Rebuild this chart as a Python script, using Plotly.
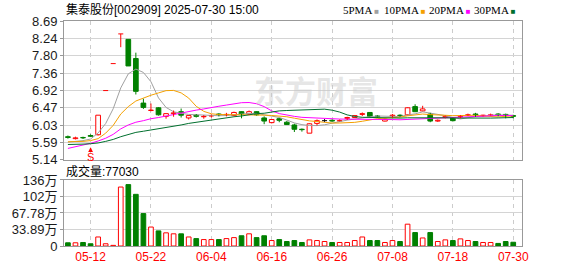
import plotly.graph_objects as go

# ---------------- data ----------------
dates = [
    "2025-05-07", "2025-05-08", "2025-05-09", "2025-05-12", "2025-05-13", "2025-05-14", "2025-05-15", "2025-05-16",
    "2025-05-19", "2025-05-20", "2025-05-21", "2025-05-22", "2025-05-23", "2025-05-26", "2025-05-27", "2025-05-28",
    "2025-05-29", "2025-05-30", "2025-06-03", "2025-06-04", "2025-06-05", "2025-06-06", "2025-06-09", "2025-06-10",
    "2025-06-11", "2025-06-12", "2025-06-13", "2025-06-16", "2025-06-17", "2025-06-18", "2025-06-19", "2025-06-20",
    "2025-06-23", "2025-06-24", "2025-06-25", "2025-06-26", "2025-06-27", "2025-06-30", "2025-07-01", "2025-07-02",
    "2025-07-03", "2025-07-04", "2025-07-07", "2025-07-08", "2025-07-09", "2025-07-10", "2025-07-11", "2025-07-14",
    "2025-07-15", "2025-07-16", "2025-07-17", "2025-07-18", "2025-07-21", "2025-07-22", "2025-07-23", "2025-07-24",
    "2025-07-25", "2025-07-28", "2025-07-29", "2025-07-30",
]
opens = [5.73, 5.68, 5.71, 5.76, 5.78, 6.91, 7.60, 8.36, 8.22, 7.73,
         6.59, 6.40, 6.47, 6.25, 6.32, 6.37, 6.21, 6.28, 6.24, 6.26,
         6.31, 6.29, 6.27, 6.37, 6.31, 6.37, 6.21, 6.09, 6.19, 6.10,
         6.03, 5.92, 5.82, 6.07, 6.14, 6.15, 6.13, 6.20, 6.22, 6.30,
         6.35, 6.26, 6.13, 6.26, 6.28, 6.29, 6.50, 6.39, 6.31, 6.13,
         6.22, 6.22, 6.24, 6.28, 6.31, 6.27, 6.27, 6.31, 6.30, 6.27]
highs = [5.76, 5.73, 5.73, 5.79, 6.28, 6.91, 7.60, 8.36, 8.22, 7.88,
         6.70, 6.58, 6.49, 6.33, 6.40, 6.45, 6.28, 6.31, 6.28, 6.30,
         6.33, 6.34, 6.37, 6.38, 6.40, 6.38, 6.25, 6.18, 6.21, 6.13,
         6.06, 5.94, 6.07, 6.17, 6.18, 6.17, 6.17, 6.24, 6.28, 6.35,
         6.36, 6.28, 6.19, 6.31, 6.30, 6.48, 6.56, 6.52, 6.34, 6.17,
         6.27, 6.23, 6.28, 6.32, 6.34, 6.29, 6.32, 6.33, 6.32, 6.29]
lows = [5.68, 5.66, 5.67, 5.72, 5.76, 6.91, 7.60, 8.02, 7.54, 6.81,
        6.44, 6.38, 6.27, 6.19, 6.24, 6.22, 6.17, 6.22, 6.19, 6.22,
        6.25, 6.25, 6.26, 6.20, 6.29, 6.27, 6.05, 6.07, 6.10, 6.03,
        5.85, 5.86, 5.82, 6.02, 6.11, 6.11, 6.12, 6.16, 6.22, 6.26,
        6.24, 6.21, 6.12, 6.22, 6.24, 6.28, 6.36, 6.38, 6.10, 6.11,
        6.20, 6.12, 6.20, 6.26, 6.24, 6.25, 6.26, 6.25, 6.20, 6.20]
closes = [5.71, 5.70, 5.70, 5.74, 6.28, 6.91, 7.60, 8.36, 7.54, 6.89,
          6.48, 6.41, 6.29, 6.32, 6.34, 6.28, 6.27, 6.25, 6.25, 6.27,
          6.29, 6.30, 6.35, 6.31, 6.37, 6.29, 6.13, 6.17, 6.15, 6.04,
          5.92, 5.91, 6.06, 6.14, 6.14, 6.13, 6.14, 6.22, 6.27, 6.32,
          6.25, 6.24, 6.18, 6.28, 6.27, 6.47, 6.37, 6.44, 6.13, 6.15,
          6.25, 6.14, 6.25, 6.29, 6.29, 6.28, 6.29, 6.29, 6.28, 6.25]
# volume in 万 (10k shares)
volumes = [6.6, 6.6, 7.2, 4.6, 18.5, 4.6, 1.3, 121.0, 126.0, 106.0,
           66.5, 38.9, 31.0, 27.0, 25.0, 25.0, 18.5, 15.2, 13.2, 13.2,
           13.2, 15.2, 17.2, 21.0, 25.0, 17.2, 21.0, 11.2, 13.2, 9.2,
           11.2, 7.2, 12.6, 11.2, 9.2, 7.2, 7.2, 7.2, 11.2, 18.5,
           11.2, 11.2, 7.2, 11.2, 9.2, 44.8, 27.6, 16.5, 27.6, 9.2,
           12.6, 11.2, 14.6, 11.2, 9.2, 7.2, 7.2, 5.3, 9.2, 7.703]
ma5 = [5.59, 5.61, 5.63, 5.67, 5.826, 6.066, 6.446, 6.978, 7.338, 7.46,
       7.374, 7.136, 6.722, 6.478, 6.368, 6.328, 6.30, 6.292, 6.278, 6.264,
       6.266, 6.272, 6.292, 6.304, 6.324, 6.324, 6.29, 6.254, 6.222, 6.156,
       6.082, 6.038, 6.016, 6.014, 6.034, 6.076, 6.122, 6.154, 6.18, 6.216,
       6.24, 6.26, 6.252, 6.254, 6.244, 6.288, 6.314, 6.366, 6.336, 6.312,
       6.268, 6.222, 6.184, 6.216, 6.244, 6.25, 6.28, 6.288, 6.286, 6.278]
ma10 = [5.60, 5.60, 5.61, 5.63, 5.68, 5.82, 6.02, 6.31, 6.50, 6.643,
        6.72, 6.791, 6.85, 6.908, 6.914, 6.851, 6.718, 6.507, 6.378, 6.316,
        6.297, 6.286, 6.292, 6.291, 6.294, 6.295, 6.281, 6.273, 6.263, 6.24,
        6.203, 6.164, 6.135, 6.118, 6.095, 6.079, 6.08, 6.085, 6.097, 6.125,
        6.158, 6.191, 6.203, 6.217, 6.23, 6.264, 6.287, 6.309, 6.295, 6.278,
        6.278, 6.268, 6.275, 6.276, 6.278, 6.259, 6.251, 6.236, 6.251, 6.261]
ma20 = [5.43, 5.47, 5.51, 5.56, 5.62, 5.69, 5.79, 5.93, 6.03, 6.10,
        6.14, 6.19, 6.22, 6.26, 6.30, 6.34, 6.37, 6.41, 6.44, 6.48,
        6.509, 6.539, 6.571, 6.60, 6.604, 6.573, 6.50, 6.39, 6.321, 6.278,
        6.25, 6.225, 6.214, 6.205, 6.195, 6.187, 6.181, 6.179, 6.18, 6.183,
        6.181, 6.178, 6.169, 6.168, 6.163, 6.172, 6.184, 6.197, 6.196, 6.202,
        6.218, 6.23, 6.239, 6.247, 6.254, 6.262, 6.269, 6.273, 6.273, 6.27]
ma30 = [5.53, 5.53, 5.54, 5.55, 5.57, 5.61, 5.66, 5.73, 5.79, 5.84,
        5.87, 5.90, 5.93, 5.96, 5.99, 6.03, 6.07, 6.10, 6.13, 6.16,
        6.18, 6.21, 6.24, 6.26, 6.29, 6.32, 6.33, 6.36, 6.39, 6.40,
        6.407, 6.414, 6.426, 6.439, 6.434, 6.408, 6.36, 6.288, 6.246, 6.227,
        6.219, 6.214, 6.21, 6.209, 6.206, 6.213, 6.216, 6.222, 6.218, 6.214,
        6.213, 6.208, 6.204, 6.204, 6.201, 6.201, 6.206, 6.21, 6.214, 6.221]
ma_names = ["5PMA", "10PMA", "20PMA", "30PMA"]
price_ticks = ["5.14", "5.59", "6.03", "6.47", "6.92", "7.36", "7.80", "8.24", "8.69"]
vol_ticks = ["0", "33.89万", "67.78万", "102万", "136万"]
vol_step = 33.89
date_ticks = ["05-12", "05-22", "06-04", "06-16", "06-26", "07-08", "07-18", "07-30"]
title_text = "集泰股份[002909] 2025-07-30 15:00"
signal_date = "2025-05-12"

# ---------------- styles ----------------
RED = "#ff0000"
GREEN = "#008000"
BLACK = "#000000"
MA_COLORS = ["#a0a0a0", "#f4a000", "#ff00ff", "#006f2e"]
FONT = "Liberation Sans, Noto Sans CJK SC, sans-serif"
GRID = "#d4d4d4"
FRAME = "#999999"

N = len(dates)
idx = list(range(N))


def direction(i):
    if closes[i] > opens[i]:
        return "up"
    if closes[i] < opens[i]:
        return "down"
    if i > 0 and closes[i] > closes[i - 1]:
        return "up"
    if i > 0 and closes[i] < closes[i - 1]:
        return "down"
    return "flat"


dirs = [direction(i) for i in idx]
dcol = {"up": RED, "down": GREEN, "flat": BLACK}

fig = go.Figure()

# moving averages
for vals, c in zip([ma5, ma10, ma20, ma30], MA_COLORS):
    fig.add_trace(go.Scatter(x=idx, y=vals, mode="lines", line=dict(color=c, width=1),
                             xaxis="x", yaxis="y", hoverinfo="skip"))

# candle bodies
body_x = [i for i in idx if opens[i] != closes[i]]
fig.add_trace(go.Bar(
    x=body_x,
    base=[min(opens[i], closes[i]) for i in body_x],
    y=[abs(closes[i] - opens[i]) for i in body_x],
    width=0.62,
    marker=dict(color=["#ffffff" if dirs[i] == "up" else dcol[dirs[i]] for i in body_x],
                line=dict(color=[dcol[dirs[i]] for i in body_x], width=1)),
    xaxis="x", yaxis="y", hoverinfo="skip"))

# wicks + flat bodies
for d in ("up", "down", "flat"):
    xs, ys = [], []
    for i in idx:
        if dirs[i] != d:
            continue
        top = max(opens[i], closes[i])
        bot = min(opens[i], closes[i])
        if highs[i] > top:
            xs += [i, i, None]
            ys += [highs[i], top, None]
        if lows[i] < bot:
            xs += [i, i, None]
            ys += [bot, lows[i], None]
        if opens[i] == closes[i]:
            xs += [i - 0.33, i + 0.33, None]
            ys += [opens[i], opens[i], None]
    if xs:
        fig.add_trace(go.Scatter(x=xs, y=ys, mode="lines", line=dict(color=dcol[d], width=1),
                                 xaxis="x", yaxis="y", hoverinfo="skip"))

# volume
fig.add_trace(go.Bar(
    x=idx, y=volumes, width=0.62,
    marker=dict(color=[GREEN if dirs[i] == "down" else "#ffffff" for i in idx],
                line=dict(color=[GREEN if dirs[i] == "down" else RED for i in idx], width=1)),
    xaxis="x2", yaxis="y2", hoverinfo="skip"))

# ---------------- layout ----------------
p_lo, p_hi = float(price_ticks[0]), float(price_ticks[-1])
n_pt = len(price_ticks) - 1
price_vals = [p_lo + k * (p_hi - p_lo) / n_pt for k in range(n_pt + 1)]
vol_vals = [k * vol_step for k in range(len(vol_ticks))]
tick_idx = [dates.index("2025-" + t) for t in date_ticks]

xcommon = dict(range=[-0.52, N + 0.16], tickvals=tick_idx, showgrid=True, gridcolor="#cccccc",
               griddash="4px,4px", gridwidth=1, showline=True, linecolor=FRAME, linewidth=1,
               mirror=True, zeroline=False, ticks="", fixedrange=True)
ycommon = dict(showgrid=True, gridcolor=GRID, gridwidth=1, showline=True, linecolor=FRAME,
               linewidth=1, mirror=True, zeroline=False, ticks="outside", ticklen=3,
               tickcolor=FRAME, tickfont=dict(family=FONT, size=13, color="#1a1a1a"), fixedrange=True)

W, H = 578, 276
ML, MR, MT, MB = 56, 56, 21, 21
plot_h = H - MT - MB
plot_w = W - ML - MR


def py(pix):  # pixel row -> paper y
    return (H - MB - pix) / plot_h


def px(pix):  # pixel col -> paper x
    return (pix - ML) / plot_w


fig.update_layout(
    width=W, height=H, margin=dict(l=ML, r=MR, t=MT, b=MB),
    paper_bgcolor="white", plot_bgcolor="white", showlegend=False,
    barmode="overlay", font=dict(family=FONT, size=12, color="#000000"),
    xaxis=dict(**xcommon, domain=[0, 1], anchor="y", showticklabels=False),
    xaxis2=dict(**xcommon, domain=[0, 1], anchor="y2", matches="x", showticklabels=True,
                ticktext=date_ticks, tickfont=dict(family=FONT, size=12, color=RED)),
    yaxis=dict(**ycommon, domain=[py(165.3), 1], range=[p_lo, p_hi], tickvals=price_vals,
               ticktext=price_ticks),
    yaxis2=dict(**ycommon, domain=[0, py(186.3)], range=[0, vol_vals[-1]], tickvals=vol_vals,
                ticktext=vol_ticks),
)

ann = []
ann.append(dict(text=title_text, xref="paper", yref="paper", x=px(56), y=py(9.5),
                xanchor="left", yanchor="middle", showarrow=False,
                font=dict(family=FONT, size=12, color="#000000")))
legend_x = [338, 380, 425, 471]
for name, c, lx in zip(ma_names, MA_COLORS, legend_x):
    ann.append(dict(text=f"{name}<span style='color:{c};font-size:8px'> ■</span>",
                    xref="paper", yref="paper", x=px(lx), y=py(9.5), xanchor="left",
                    yanchor="middle", showarrow=False,
                    font=dict(family="Liberation Serif, serif", size=11, color="#000000")))
ann.append(dict(text=f"成交量:{int(round(volumes[-1] * 10000))}", xref="paper", yref="paper",
                x=px(56), y=py(177), xanchor="left", yanchor="middle", showarrow=False,
                font=dict(family=FONT, size=12, color="#000000")))
ann.append(dict(text="<b>东方财富</b>", xref="paper", yref="paper", x=px(312), y=py(92),
                xanchor="center", yanchor="middle", showarrow=False,
                font=dict(family="Noto Sans CJK SC", size=31, color="rgba(200,200,200,0.45)")))
s_i = dates.index(signal_date)
ann.append(dict(text="S", xref="x", yref="y", x=s_i, y=lows[s_i] - 0.26, ax=0, ay=10,
                showarrow=True, arrowhead=2, arrowsize=0.8, arrowwidth=1.2, arrowcolor=RED,
                standoff=0, font=dict(family=FONT, size=11, color=RED)))
fig.update_layout(annotations=ann)

fig.write_html("out.html")
